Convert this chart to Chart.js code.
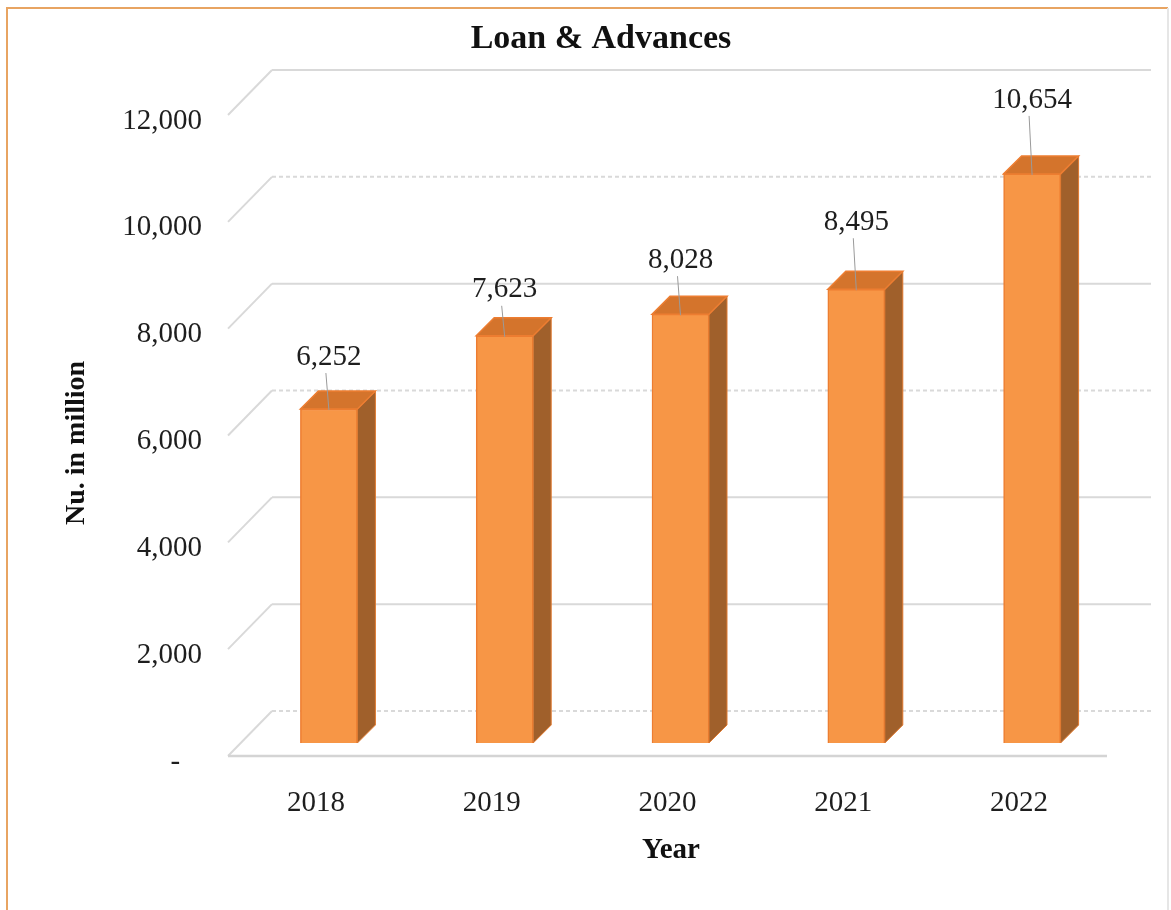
<!DOCTYPE html>
<html>
<head>
<meta charset="utf-8">
<title>Loan & Advances</title>
<script src="https://cdn.jsdelivr.net/npm/chart.js@4.4.1/dist/chart.umd.min.js"></script>
<style>
  html, body { margin: 0; padding: 0; background: #fff; }
  #wrap { width: 1171px; height: 910px; }
</style>
</head>
<body>
<div id="wrap"><canvas id="loanChart" width="1171" height="910"></canvas></div>
<script>
// ---------- Data ----------
const years = ["2018", "2019", "2020", "2021", "2022"];
const loans = [6252, 7623, 8028, 8495, 10654];
const yTicks = [0, 2000, 4000, 6000, 8000, 10000, 12000];

const FONT = "'Liberation Serif', 'Times New Roman', serif";
const fmt = (n) => Number(n).toLocaleString("en-US");

// 3D look: wall depth and bar placement inside it
const WALL_DX = 44, WALL_DY = 45;
const BAR_SHIFT = 13, BAR_DEPTH = 18;
const dashedBack = [0, 6000, 10000];
const labelLift = [52, 46, 54, 67, 74];

// ---------- Plugin: walls, 3D faces, labels ----------
const threeD = {
  id: "threeD",
  beforeDatasetsDraw(chart) {
    const { ctx, chartArea: a, scales: { y } } = chart;
    ctx.save();
    ctx.strokeStyle = "#d9d9d9";
    ctx.lineWidth = 2;
    yTicks.forEach((v) => {
      const yf = y.getPixelForValue(v);
      ctx.setLineDash([]);
      ctx.beginPath();
      ctx.moveTo(a.left, yf);
      ctx.lineTo(a.left + WALL_DX, yf - WALL_DY);
      ctx.stroke();
      ctx.setLineDash(dashedBack.includes(v) ? [4, 3] : []);
      ctx.beginPath();
      ctx.moveTo(a.left + WALL_DX, yf - WALL_DY);
      ctx.lineTo(a.right + WALL_DX, yf - WALL_DY);
      ctx.stroke();
    });
    // floor front edge
    ctx.setLineDash([]);
    ctx.strokeStyle = "#d4d4d4";
    ctx.lineWidth = 2.5;
    ctx.beginPath();
    ctx.moveTo(a.left, a.bottom);
    ctx.lineTo(a.right, a.bottom);
    ctx.stroke();
    ctx.restore();
  },
  beforeDatasetDraw(chart) {
    chart.ctx.save();
    chart.ctx.translate(BAR_SHIFT, -BAR_SHIFT);
  },
  afterDatasetDraw(chart, args) {
    const ctx = chart.ctx;
    args.meta.data.forEach((bar) => {
      const l = bar.x - bar.width / 2, r = bar.x + bar.width / 2;
      const t = bar.y, b = bar.base, d = BAR_DEPTH;
      // side face
      ctx.fillStyle = "#a0602b";
      ctx.beginPath();
      ctx.moveTo(r, t);
      ctx.lineTo(r + d, t - d);
      ctx.lineTo(r + d, b - d);
      ctx.lineTo(r, b);
      ctx.closePath();
      ctx.fill();
      ctx.strokeStyle = "#e07a30";
      ctx.lineWidth = 1;
      ctx.stroke();
      // top face
      ctx.fillStyle = "#d4742c";
      ctx.beginPath();
      ctx.moveTo(l, t);
      ctx.lineTo(l + d, t - d);
      ctx.lineTo(r + d, t - d);
      ctx.lineTo(r, t);
      ctx.closePath();
      ctx.fill();
      ctx.strokeStyle = "#ed7d31";
      ctx.lineWidth = 1.5;
      ctx.stroke();
    });
    ctx.restore();
  },
  afterDatasetsDraw(chart) {
    const { ctx } = chart;
    const meta = chart.getDatasetMeta(0);
    ctx.save();
    ctx.font = `29px ${FONT}`;
    ctx.fillStyle = "#1e1e1e";
    ctx.textAlign = "center";
    ctx.textBaseline = "middle";
    meta.data.forEach((bar, i) => {
      const cx = bar.x + BAR_SHIFT;
      const top = bar.y - BAR_SHIFT;
      const ly = top - labelLift[i];
      ctx.fillText(fmt(loans[i]), cx, ly);
      ctx.strokeStyle = "#9a9a9a";
      ctx.lineWidth = 1;
      ctx.beginPath();
      ctx.moveTo(cx - 3, ly + 16);
      ctx.lineTo(cx, top + 1);
      ctx.stroke();
    });
    ctx.restore();
  },
  afterDraw(chart) {
    const { ctx } = chart;
    ctx.save();
    // frame
    ctx.strokeStyle = "#e8a462";
    ctx.lineWidth = 2;
    ctx.beginPath();
    ctx.moveTo(7, 910);
    ctx.lineTo(7, 8);
    ctx.lineTo(1168, 8);
    ctx.stroke();
    ctx.strokeStyle = "#e6e6e6";
    ctx.beginPath();
    ctx.moveTo(1168, 8);
    ctx.lineTo(1168, 910);
    ctx.stroke();
    // titles
    ctx.fillStyle = "#111";
    ctx.textAlign = "center";
    ctx.textBaseline = "middle";
    ctx.font = `bold 34px ${FONT}`;
    ctx.fillText("Loan & Advances", 601, 39);
    ctx.font = `bold 29px ${FONT}`;
    ctx.fillText("Year", 671, 851);
    ctx.translate(77, 443);
    ctx.rotate(-Math.PI / 2);
    ctx.font = `bold 28px ${FONT}`;
    ctx.fillText("Nu. in million", 0, 0);
    ctx.restore();
  },
};

// ---------- Chart ----------
new Chart(document.getElementById("loanChart"), {
  type: "bar",
  data: {
    labels: years,
    datasets: [{
      label: "Loan & Advances",
      data: loans,
      backgroundColor: "#f79646",
      borderColor: "#ed7d31",
      borderWidth: 1.5,
      barThickness: 57,
      clip: false,
    }],
  },
  options: {
    responsive: false,
    animation: false,
    devicePixelRatio: 1,
    layout: { padding: { top: 115, right: 64, left: 0, bottom: 0 } },
    plugins: { legend: { display: false }, tooltip: { enabled: false } },
    scales: {
      x: {
        grid: { display: false },
        border: { display: false },
        ticks: { color: "#1e1e1e", padding: 22, font: { family: FONT, size: 29 } },
        afterFit: (s) => { s.height = 154; },
      },
      y: {
        min: 0,
        max: 12000,
        afterBuildTicks: (s) => { s.ticks = yTicks.map((v) => ({ value: v })); },
        grid: { display: false, drawTicks: false },
        border: { display: false },
        ticks: {
          color: "#1e1e1e",
          padding: 26,
          labelOffset: 6,
          font: { family: FONT, size: 29 },
          callback: (v) => (v === 0 ? "-   " : fmt(v)),
        },
        afterFit: (s) => { s.width = 228; },
      },
    },
  },
  plugins: [threeD],
});
</script>
</body>
</html>
